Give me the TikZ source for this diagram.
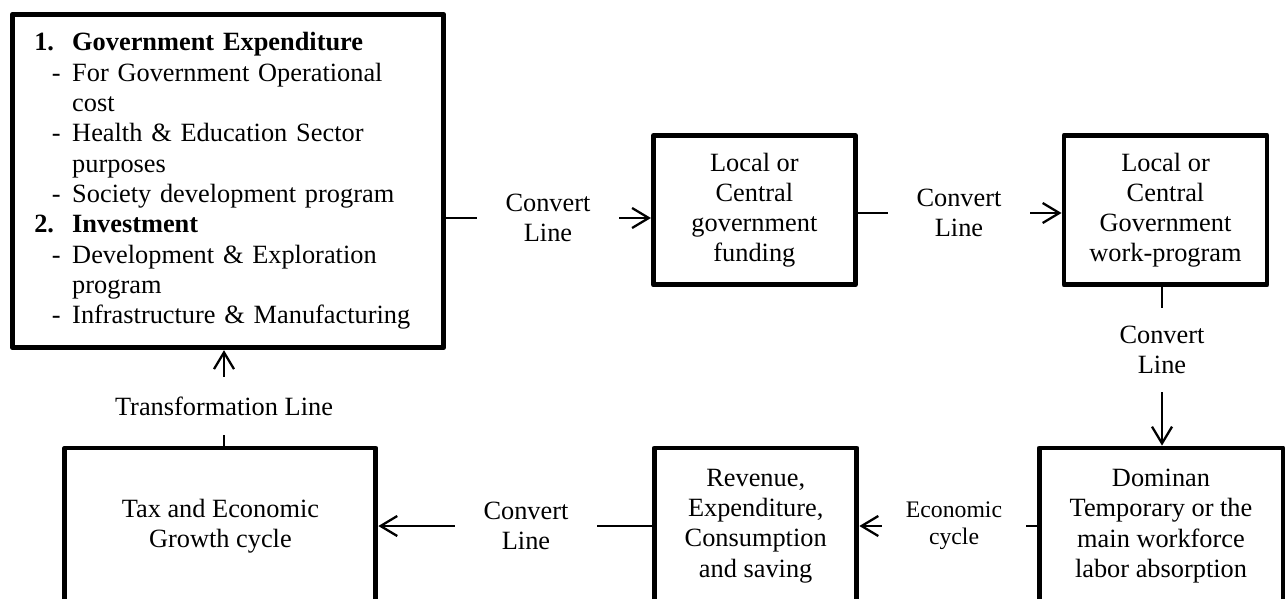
\documentclass[tikz,border=0pt]{standalone}
\usepackage{fontspec}
\setmainfont{Liberation Serif}
\usetikzlibrary{arrows.meta}

% list lines inside the first box
\newcommand{\bxnum}[2]{\makebox[21.6pt][l]{\textbf{#1}}\textbf{#2}}
\newcommand{\bxdash}[1]{\hspace*{10pt}\makebox[11.6pt][l]{-}#1}
\newcommand{\bxcont}[1]{\hspace*{21.6pt}#1}

\begin{document}
\begin{tikzpicture}[x=0.02cm, y=-0.02cm, >={Straight Barb[length=9.5pt,width=11.4pt]},
  font=\fontsize{15}{17.25}\selectfont,
  box/.style={draw, line width=2.8pt, line join=round, align=center, inner sep=2pt},
  tag/.style={align=center, inner sep=0pt},
  link/.style={line width=1.3pt},
  flow/.style={->, line width=1.3pt}]
  \useasboundingbox (0,0) rectangle (1287,598);
  \clip (0,0) rectangle (1287,598);

  % Boxes
  \node[box, align=left, text width=7.75cm, inner xsep=0.44cm,
        minimum width=8.634cm, minimum height=6.67cm] (spend) at (228,181) {%
    \bxnum{1.}{Government Expenditure}\\
    \bxdash{For Government Operational}\\
    \bxcont{cost}\\
    \bxdash{Health \& Education Sector}\\
    \bxcont{purposes}\\
    \bxdash{Society development program}\\
    \bxnum{2.}{Investment}\\
    \bxdash{Development \& Exploration}\\
    \bxcont{program}\\
    \bxdash{Infrastructure \& Manufacturing}};
  \node[box, minimum width=4.04cm, minimum height=2.99cm] (fund) at (754.4,210.2)
    {Local or\\Central\\government\\funding};
  \node[box, minimum width=4.06cm, minimum height=2.99cm] (work) at (1165.5,210.2)
    {Local or\\Central\\Government\\work-program};
  \node[box, minimum width=4.88cm, minimum height=3.12cm] (labor) at (1161,526)
    {Dominan\\Temporary or the\\main workforce\\labor absorption};
  \node[box, minimum width=4.05cm, minimum height=3.12cm] (rev) at (755.7,526)
    {Revenue,\\Expenditure,\\Consumption\\and saving};
  \node[box, minimum width=6.22cm, minimum height=3.12cm] (tax) at (220.4,526)
    {Tax and Economic\\Growth cycle};

  % Line labels
  \node[tag, minimum width=2.84cm] (c1) at (548,218) {Convert\\Line};
  \node[tag, minimum width=2.84cm] (c2) at (959,213) {Convert\\Line};
  \node[tag, minimum height=1.68cm] (c3) at (1162,350) {Convert\\Line};
  \node[tag, minimum width=2.88cm, font=\fontsize{13.5}{15.3}\selectfont] (c4) at (954,526) {Economic\\cycle};
  \node[tag, minimum width=2.84cm] (c5) at (526,526) {Convert\\Line};
  \node[tag, minimum height=1.16cm] (c6) at (224,406) {Transformation Line};

  % Connectors
  \draw[link] (spend.east |- c1) -- (c1.west);
  \draw[flow] (c1.east) -- (fund.west |- c1);
  \draw[link] (fund.east |- c2) -- (c2.west);
  \draw[flow] (c2.east) -- (work.west |- c2);
  \draw[link] (work.south -| c3) -- (c3.north);
  \draw[flow] (c3.south) -- (labor.north -| c3);
  \draw[link] (labor.west |- c4) -- (c4.east);
  \draw[flow] (c4.west) -- (rev.east |- c4);
  \draw[link] (rev.west |- c5) -- (c5.east);
  \draw[flow] (c5.west) -- (tax.east |- c5);
  \draw[link] (tax.north -| c6) -- (c6.south);
  \draw[flow] (c6.north) -- (spend.south -| c6);
\end{tikzpicture}
\end{document}
